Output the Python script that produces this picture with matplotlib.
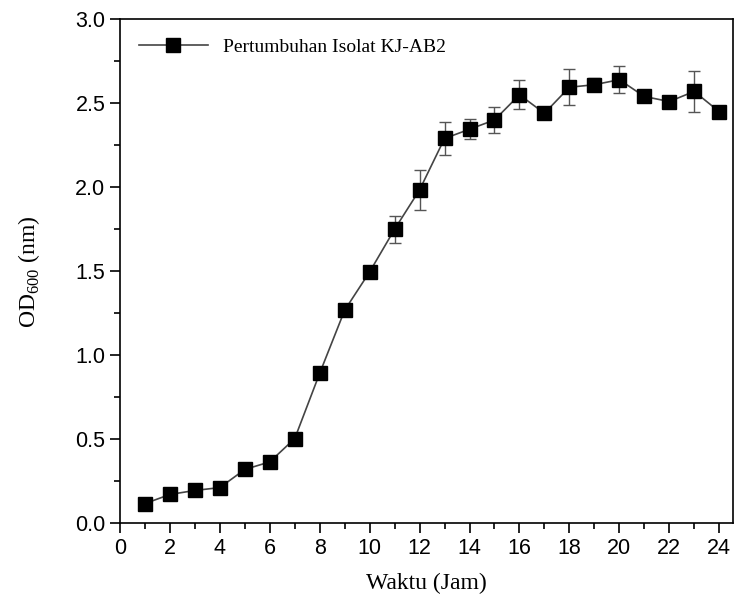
import matplotlib.pyplot as plt
from matplotlib.ticker import MultipleLocator
from matplotlib.lines import Line2D

# growth data
jam = [1, 2, 3, 4, 5, 6, 7, 8, 9, 10, 11, 12,
       13, 14, 15, 16, 17, 18, 19, 20, 21, 22, 23, 24]
od600 = [0.117, 0.171, 0.195, 0.212, 0.32, 0.365, 0.504, 0.893, 1.268, 1.496, 1.75, 1.984,
         2.29, 2.345, 2.40, 2.55, 2.44, 2.595, 2.61, 2.64, 2.54, 2.51, 2.57, 2.45]
err = [0, 0, 0, 0, 0, 0, 0, 0, 0.03, 0, 0.08, 0.12,
       0.10, 0.06, 0.08, 0.087, 0, 0.108, 0.04, 0.08, 0, 0, 0.12, 0]

serif = 'Liberation Serif'
sans = 'Liberation Sans'

fig = plt.figure(figsize=(7.34, 6), dpi=100)
ax = fig.add_axes([0.1635, 0.128, 0.835, 0.84])

ax.errorbar(jam, od600, yerr=err, color='#444444', lw=1.2, marker='s',
            markersize=9.5, markerfacecolor='black', markeredgecolor='black',
            ecolor='#555555', elinewidth=1.0, capsize=4, capthick=1.0)

ax.set_xlim(0, 24.55)
ax.set_ylim(0, 3.0)
ax.xaxis.set_major_locator(MultipleLocator(2))
ax.xaxis.set_minor_locator(MultipleLocator(1))
ax.yaxis.set_major_locator(MultipleLocator(0.5))
ax.yaxis.set_minor_locator(MultipleLocator(0.25))
ax.yaxis.set_major_formatter(plt.FormatStrFormatter('%.1f'))
ax.tick_params(which='both', direction='out', width=1.2, top=False, right=False)
ax.tick_params(which='major', length=7, labelsize=15.5)
ax.tick_params(which='minor', length=4)
for lab in ax.get_xticklabels() + ax.get_yticklabels():
    lab.set_fontfamily(sans)
for s in ax.spines.values():
    s.set_linewidth(1.2)

ax.set_xlabel('Waktu (Jam)', fontfamily=serif, fontsize=17, labelpad=10)
ax.set_ylabel('OD$_{\\mathregular{600}}$ (nm)', fontfamily=serif, fontsize=17, labelpad=24)

handle = Line2D([], [], color='#444444', lw=1.2, marker='s', markersize=9.5,
                markerfacecolor='black', markeredgecolor='black')
ax.legend([handle], ['Pertumbuhan Isolat KJ-AB2'], loc='upper left', frameon=False,
          prop={'family': serif, 'size': 14}, handlelength=3.5, borderaxespad=0.6)

fig.savefig('out.png', dpi=100)
